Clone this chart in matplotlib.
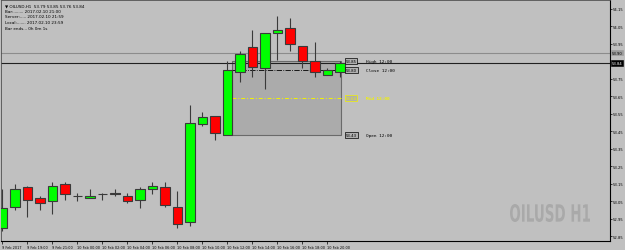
import matplotlib
matplotlib.use("Agg")
import matplotlib.pyplot as plt
from matplotlib.patches import Rectangle, PathPatch
from matplotlib.textpath import TextPath
from matplotlib.font_manager import FontProperties
import matplotlib.transforms as mtransforms

# hourly bars, 9 Feb 17:00 .. 10 Feb 21:00 (no 23:00 bar)
opens = [52.90, 53.02, 53.13, 53.07, 53.05, 53.15, 53.08, 53.07, 53.09, 53.10,
         53.08, 53.06, 53.12, 53.13, 53.02, 52.93, 53.49, 53.54, 53.43, 53.79,
         53.93, 53.81, 54.01, 54.04, 53.94, 53.85, 53.77, 53.79]
highs = [53.12, 53.15, 53.14, 53.08, 53.16, 53.16, 53.10, 53.12, 53.10, 53.12,
         53.10, 53.13, 53.16, 53.16, 53.11, 53.60, 53.56, 53.54, 53.85, 53.91,
         54.03, 54.01, 54.11, 54.10, 53.94, 53.96, 53.81, 53.85]
lows = [52.88, 53.00, 52.96, 53.00, 52.98, 53.06, 53.05, 53.07, 53.06, 53.08,
        53.04, 53.01, 53.09, 53.02, 52.90, 52.91, 53.48, 53.40, 53.43, 53.73,
        53.76, 53.69, 53.86, 53.91, 53.81, 53.76, 53.77, 53.76]
closes = [53.01, 53.12, 53.06, 53.04, 53.14, 53.09, 53.08, 53.08, 53.09, 53.09,
          53.05, 53.12, 53.14, 53.03, 52.92, 53.50, 53.53, 53.44, 53.80, 53.89,
          53.82, 54.01, 54.03, 53.95, 53.85, 53.79, 53.80, 53.84]

time_labels = ["9 Feb 2017", "9 Feb 19:00", "9 Feb 21:00", "10 Feb 00:00",
               "10 Feb 02:00", "10 Feb 04:00", "10 Feb 06:00", "10 Feb 08:00",
               "10 Feb 10:00", "10 Feb 12:00", "10 Feb 14:00", "10 Feb 16:00",
               "10 Feb 18:00", "10 Feb 20:00"]
label_bars = [0, 2, 4, 6, 8, 10, 12, 14, 16, 18, 20, 22, 24, 26]

price_ticks = [54.15, 54.05, 53.95, 53.75, 53.65, 53.55, 53.45, 53.35,
               53.25, 53.15, 53.05, 52.95, 52.85]
ask_price = 53.90
bid_price = 53.84

# reference bar (12:00) levels
ref_bar = 18
ref_high, ref_open, ref_close = 53.85, 53.43, 53.80
ref_mid = round((ref_high + ref_open) / 2, 2)

bg = "#c0c0c0"
yellow = "#f2f200"
fig = plt.figure(figsize=(6.25, 2.51), dpi=100, facecolor=bg)
ax = fig.add_axes([1 / 625, 9 / 251, 609 / 625, 241 / 251])
ax.set_facecolor(bg)
ax.set_xlim(-0.1, 48.6)
ax.set_ylim(52.824, 54.201)

# box over the 12:00 bar range
x0 = ref_bar + 0.38
x1 = len(opens) - 1 + 0.1
ax.add_patch(Rectangle((x0, ref_open), x1 - x0, ref_high - ref_open,
                       facecolor="#ababab", edgecolor="#6a6a6a", lw=0.8, zorder=1))
ax.hlines(ref_close, x0, x1, colors="black", linestyles="-.", lw=0.6, zorder=2)
ax.hlines(ref_mid, x0, x1, colors=yellow, linestyles=(0, (4, 2, 1, 2)), lw=0.7, zorder=2)

# ask / bid lines
ax.axhline(ask_price, color="#8c8c8c", lw=0.8, zorder=2)
ax.axhline(bid_price, color="#202020", lw=0.8, zorder=2)

# candles
w = 0.76
for i, (o, h, l, c) in enumerate(zip(opens, highs, lows, closes)):
    ax.vlines(i, l, h, colors="#3a3a3a", lw=0.8, zorder=3)
    if abs(c - o) < 0.005:
        ax.hlines(o, i - w / 2, i + w / 2, colors="#3a3a3a", lw=0.8, zorder=4)
        continue
    col = "#00ff00" if c > o else "#ff0000"
    ax.bar(i, abs(c - o), bottom=min(o, c), width=w, color=col,
           edgecolor="#3a3a3a", lw=0.8, zorder=4)

# level tags right of the box
tags = [(ref_high, "High 12:00", "black"), (ref_close, "Close 12:00", "black"),
        (ref_mid, "Mid 12:00", yellow), (ref_open, "Open 12:00", "black")]
for val, txt, col in tags:
    ax.text(x1 + 0.35, val, f"{val:.2f}", fontsize=2.8, color=col, va="center",
            ha="left", zorder=5,
            bbox=dict(boxstyle="square,pad=0.25", fc="#b0b0b0", ec=col, lw=0.5))
    ax.text(x1 + 2.0, val, txt, fontsize=3.2, color=col, va="center", ha="left",
            family="DejaVu Sans Mono", fontweight="bold" if col == yellow else "normal",
            zorder=5)

# axes styling (MT4 look)
for s in ["left", "top"]:
    ax.spines[s].set_color("#505050")
    ax.spines[s].set_linewidth(0.6)
for s in ["right", "bottom"]:
    ax.spines[s].set_color("black")
    ax.spines[s].set_linewidth(0.8)

ax.yaxis.tick_right()
ax.set_yticks(price_ticks)
ax.set_yticklabels([f"{p:.2f}" for p in price_ticks])
ax.tick_params(axis="y", length=1.5, width=0.5, pad=0.6, labelsize=2.7, colors="black")
ax.set_xticks(label_bars)
ax.set_xticklabels(time_labels, ha="left")
ax.tick_params(axis="x", length=2, width=0.5, pad=0.8, labelsize=2.5, colors="black")

# price tags on the right scale
tr = mtransforms.blended_transform_factory(ax.transAxes, ax.transData)
ax.text(1.003, ask_price, f"{ask_price:.2f}", transform=tr, fontsize=2.7, color="black",
        va="center", ha="left", clip_on=False,
        bbox=dict(boxstyle="square,pad=0.2", fc="#9a9a9a", ec="#9a9a9a", lw=0.4))
ax.text(1.003, bid_price, f"{bid_price:.2f}", transform=tr, fontsize=2.7, color="white",
        va="center", ha="left", clip_on=False,
        bbox=dict(boxstyle="square,pad=0.2", fc="black", ec="black", lw=0.4))

# header
hdr = ["\u25bc OILUSD,H1  53.79 53.85 53.76 53.84",
       "Bar:........ 2017.02.10 21:00",
       "Server:..... 2017.02.10 21:59",
       "Local:....... 2017.02.10 23:59"]
for k, line in enumerate(hdr):
    ax.text(0.006, 0.985 - k * 0.022, line, transform=ax.transAxes, fontsize=3.0,
            va="top", ha="left", color="black")
ax.text(0.006, 0.985 - 4 * 0.022 - 0.004, "Bar ends... 0h 0m 1s", transform=ax.transAxes,
        fontsize=3.0, va="top", ha="left", color="black")

# watermark, squeezed into a condensed box (pixel coords: x 510-590, y 28-46 from bottom)
tp = TextPath((0, 0), "OILUSD H1", size=10, prop=FontProperties(family="DejaVu Sans", weight="bold"))
ext = tp.get_extents()
sx = 80 / ext.width
sy = 18 / ext.height
wm_tr = mtransforms.Affine2D().translate(-ext.x0, -ext.y0).scale(sx, sy).translate(510, 28)
fig.patches.append(PathPatch(tp, transform=wm_tr, facecolor="#a9a9a9", edgecolor="none",
                             zorder=0.5, figure=fig))

fig.savefig("out.png", dpi=100, facecolor=bg)
